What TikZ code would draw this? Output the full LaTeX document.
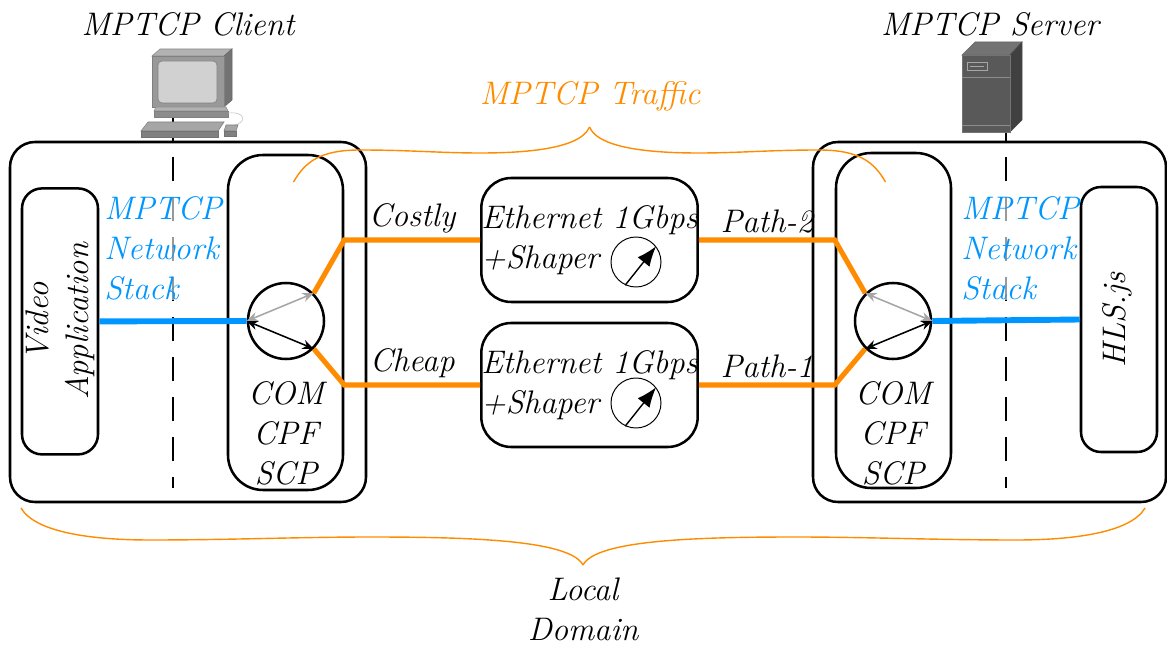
\documentclass[tikz,border=0pt]{standalone}
\usepackage{amsmath,amssymb}
\usepackage{tikz}
\usetikzlibrary{arrows.meta}
\definecolor{mporange}{RGB}{255,140,0}
\definecolor{mpblue}{RGB}{0,150,255}
\tikzstyle{every node}=[font=\fontsize{23.2}{28.5}\selectfont\itshape]
\tikzstyle{host}=[draw, line width=1.8pt, rounded corners=0.625cm, minimum width=8.9cm, minimum height=9cm]
\tikzstyle{app}=[draw, line width=1.8pt, rounded corners=0.5cm, minimum width=1.9cm, minimum height=6.65cm]
\tikzstyle{stackbox}=[draw, line width=1.8pt, rounded corners=0.875cm, minimum width=2.875cm, minimum height=8.375cm]
\tikzstyle{router}=[circle, draw, line width=1.8pt, inner sep=0pt, minimum size=1.9cm]
\tikzstyle{shaper}=[draw, line width=1.8pt, rounded corners=0.75cm, minimum width=5.375cm, minimum height=3.1cm, inner sep=0pt, align=left]
\tikzstyle{gauge}=[circle, draw, line width=0.7pt, inner sep=0pt, minimum size=1.25cm]
\tikzstyle{subflow}=[draw=mporange, line width=3.6pt]
\tikzstyle{wire}=[draw=mpblue, line width=4.2pt]
\tikzstyle{divider}=[line width=2.1pt, dash pattern=on 0.6cm off 0.4cm]
\tikzstyle{netstack}=[anchor=west, align=left, text=mpblue, fill=white, fill opacity=0.6, text opacity=1, inner sep=0pt]
\tikzstyle{swap}=[<->, >={Stealth[length=2.8mm,width=2.3mm]}, line width=1.1pt]
\tikzstyle{bracket}=[draw=mporange, line width=1pt]
\newcommand{\router}{\node[router]}
\newcommand{\shaper}{\node[shaper]}

\begin{document}
\begin{tikzpicture}
	\useasboundingbox (0,0) rectangle (29.175,16.125);
	%% the dividers between application and stack
	\draw[divider] (4.325,13.2) -- (4.325,3.925);
	\draw[divider] (25.15,13.2) -- (25.15,3.925);
	%% the client
	\node[host] (client) at (4.7,8.075) {};
	\node[app] (video) at (1.5,8.09) {};
	\node[rotate=90, align=center] at (video) {Video\\Application};
	\node[stackbox] (sl) at (7.1375,8.0625) {};
	\router (rl) at (7.15,8.1) {};
	\node[align=center] at (7.15,5.3) {COM\\CPF\\SCP};
	\node[netstack] (nl) at (2.6,9.925) {MPTCP\\Network\\Stack};
	\node at (4.7,15.525) {MPTCP Client};
	%% the server
	\node[host, minimum width=8.825cm] (server) at (24.7375,8.075) {};
	\node[app, minimum height=6.625cm] (hls) at (27.975,8.1375) {};
	\node[rotate=90] at (27.925,8.125) {HLS.js};
	\node[stackbox] (sr) at (22.3375,8.1125) {};
	\router (rr) at (22.325,8.1) {};
	\node[align=center] at (22.325,5.3) {COM\\CPF\\SCP};
	\node[netstack] (nr) at (24.03,9.925) {MPTCP\\Network\\Stack};
	\node at (24.75,15.525) {MPTCP Server};
	%% the two shaped links
	\shaper (s2) at (14.7375,10.125) {Ethernet 1Gbps\\+Shaper};
	\shaper (s1) at (14.7375,6.5) {Ethernet 1Gbps\\+Shaper};
	\node[gauge] (g2) at (15.9,9.575) {};
	\node[gauge] (g1) at (15.9,6.05) {};
	\draw[-{Latex[length=0.5cm,width=0.38cm]}, line width=1pt] (g2.-115) -- (g2.38);
	\draw[-{Latex[length=0.5cm,width=0.38cm]}, line width=1pt] (g1.-115) -- (g1.38);
	%% subflows
	\path[subflow]
		(rl.north east) -- (sl.east |- s2.west) -- node[above] {Costly} (s2.west)
		(rl.south east) -- (sl.east |- s1.west) -- node[above] {Cheap} (s1.west)
		(s2.east) -- node[above] {Path-2} (sr.west |- s2.east) -- (rr.north west)
		(s1.east) -- node[above] {Path-1} (sr.west |- s1.east) -- (rr.south west)
		;
	\path[wire]
		(video.east) -- (rl.west)
		(rr.east) -- (hls.west)
		;
	%% scheduling inside the routers
	\draw[swap, gray!70] (rl.west) -- (rl.north east);
	\draw[swap] (rl.west) -- (rl.south east);
	\draw[swap, gray!70] (rr.north west) -- (rr.east);
	\draw[swap] (rr.south west) -- (rr.east);
	%% the client computer
	\filldraw[fill=black!30, draw=black!45, thin] (3.8,14.725) -- (4.0,14.9) -- (5.8,14.9) -- (5.6,14.725) -- cycle;
	\filldraw[fill=black!55, draw=black!60, thin] (5.6,14.725) -- (5.8,14.9) -- (5.8,13.625) -- (5.6,13.45) -- cycle;
	\filldraw[fill=black!40, draw=black!50, thin] (3.8,13.45) rectangle (5.6,14.725);
	\filldraw[fill=black!18, draw=black!50, thin, rounded corners=3pt] (3.95,13.55) rectangle (5.425,14.6);
	\filldraw[fill=black!30, draw=black!45, thin] (3.9,13.45) -- (5.65,13.45) -- (5.7,13.35) -- (3.85,13.35) -- cycle;
	\filldraw[fill=black!45, draw=black!50, thin] (3.85,13.2) rectangle (5.7,13.35);
	\draw[black!25, thin] (5.7,13.3) .. controls (6.15,13.35) and (6.2,13.05) .. (5.8,12.98);
	\filldraw[fill=black!35, draw=black!50, thin] (3.7,13.075) -- (5.6,13.075) -- (5.45,12.85) -- (3.525,12.85) -- cycle;
	\filldraw[fill=black!50, draw=black!55, thin] (3.525,12.7) rectangle (5.45,12.85);
	\filldraw[fill=black!35, draw=black!50, thin] (5.65,13.0) -- (5.95,13.0) -- (5.9,12.85) -- (5.6,12.85) -- cycle;
	\filldraw[fill=black!50, draw=black!55, thin] (5.6,12.72) rectangle (5.9,12.85);
	%% the server tower
	\filldraw[fill=black!55, draw=black!60, thin] (24.05,14.75) -- (24.375,15.075) -- (25.55,15.075) -- (25.25,14.75) -- cycle;
	\filldraw[fill=black!75, draw=black!70, thin] (25.25,14.75) -- (25.55,15.075) -- (25.55,13.125) -- (25.25,12.825) -- cycle;
	\filldraw[fill=black!65, draw=black!55, thin] (24.05,12.825) rectangle (25.25,14.75);
	\draw[black!35, thin] (24.175,14.375) rectangle (24.675,14.575);
	\draw[black!35, thin] (24.25,14.475) -- (24.6,14.475);
	\draw[black!45, thin] (24.05,14.2) -- (25.25,14.2);
	\draw[black!45, thin] (24.05,13.0) -- (25.25,13.0);
	%% brace over the subflows, two mirrored halves
	\begin{scope}[xshift=14.7375cm]
		\draw[bracket] (0,12.95) .. controls (-0.2375,12.375) and (-1.7375,12.3) .. (-2.7375,12.3)
			.. controls (-3.7375,12.3) and (-4.4875,12.375) .. (-5.7375,12.375)
			.. controls (-6.7375,12.375) and (-7.1125,12.075) .. (-7.4,11.575);
		\draw[bracket, xscale=-1] (0,12.95) .. controls (-0.2375,12.375) and (-1.7375,12.3) .. (-2.7375,12.3)
			.. controls (-3.7375,12.3) and (-4.4875,12.375) .. (-5.7375,12.375)
			.. controls (-6.7375,12.375) and (-7.1125,12.075) .. (-7.4,11.575);
	\end{scope}
	\node[text=mporange] (traffic) at (14.75,13.725) {MPTCP Traffic};
	%% brace under both hosts
	\begin{scope}[xshift=14.575cm]
		\draw[bracket] (0,2.0) .. controls (-0.325,2.625) and (-2.825,2.7) .. (-5.325,2.7)
			.. controls (-7.075,2.7) and (-8.825,2.625) .. (-10.825,2.625)
			.. controls (-12.325,2.625) and (-13.7,2.825) .. (-14.05,3.425);
		\draw[bracket, xscale=-1] (0,2.0) .. controls (-0.325,2.625) and (-2.825,2.7) .. (-5.325,2.7)
			.. controls (-7.075,2.7) and (-8.825,2.625) .. (-10.825,2.625)
			.. controls (-12.325,2.625) and (-13.7,2.825) .. (-14.05,3.425);
	\end{scope}
	\node[align=center, inner sep=0pt] (domain) at (14.575,0.9) {Local\\Domain};
\end{tikzpicture}
\end{document}
